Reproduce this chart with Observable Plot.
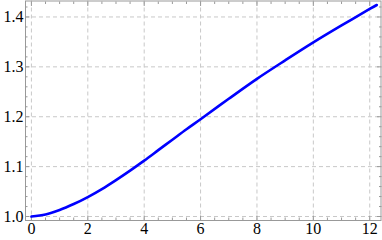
<!DOCTYPE html>
<html>
<head>
<meta charset="utf-8">
<script src="https://cdn.jsdelivr.net/npm/d3@7"></script>
<script src="https://cdn.jsdelivr.net/npm/@observablehq/plot@0.6"></script>
<style>
  html, body { margin: 0; padding: 0; background: #fff; }
  #chart svg { display: block; }
</style>
</head>
<body>
<div id="chart"></div>
<script>
const xs = [0, 0.5, 1, 1.5, 2, 2.5, 3, 3.5, 4, 4.5, 5, 5.5, 6, 7, 8, 9, 10, 11, 12, 12.25];
const ys = [1.000, 1.004, 1.013, 1.025, 1.039, 1.055, 1.073, 1.092, 1.112, 1.133, 1.154, 1.175, 1.195, 1.236, 1.276, 1.313, 1.349, 1.383, 1.416, 1.424];
const xMajor = [0, 2, 4, 6, 8, 10, 12];
const xMinor = d3.range(0, 12.5, 0.5).filter(v => v % 2 !== 0);
const yMajor = [1.0, 1.1, 1.2, 1.3, 1.4];
const yMinor = d3.range(1.0, 1.43, 0.02).filter(v => Math.abs(v * 10 - Math.round(v * 10)) > 1e-6);

const data = xs.map((x, i) => ({x, y: ys[i]}));
const frameColor = "#999";
const serif = "Liberation Serif";
const gridStyle = {stroke: "#c8c8c8", strokeDasharray: "4,3", strokeWidth: 1};

const chart = Plot.plot({
  width: 382,
  height: 240,
  marginLeft: 25,
  marginRight: 1.5,
  marginTop: 0.5,
  marginBottom: 20,
  style: "font-family: 'Liberation Serif'; font-size: 16px; color: #000;",
  x: {domain: [-0.21, 12.4], label: null},
  y: {domain: [0.992, 1.432], label: null},
  marks: [
    Plot.ruleX(xMajor, gridStyle),
    Plot.ruleY(yMajor, gridStyle),
    Plot.axisX({ticks: xMajor, tickSize: 0, tickPadding: 2, tickFormat: d => d, fontSize: 16, fontFamily: serif, fill: "#000", label: null}),
    Plot.axisY({ticks: yMajor, tickSize: 0, tickPadding: 2, tickFormat: d3.format(".1f"), fontSize: 16, fontFamily: serif, fill: "#000", label: null}),
    Plot.axisX({ticks: xMajor, tickSize: -4.5, text: null, stroke: frameColor, label: null}),
    Plot.axisX({ticks: xMinor, tickSize: -2.5, text: null, stroke: frameColor, label: null}),
    Plot.axisX({anchor: "top", ticks: xMajor, tickSize: -4.5, text: null, stroke: frameColor, label: null}),
    Plot.axisX({anchor: "top", ticks: xMinor, tickSize: -2.5, text: null, stroke: frameColor, label: null}),
    Plot.axisY({ticks: yMajor, tickSize: -4.5, text: null, stroke: frameColor, label: null}),
    Plot.axisY({ticks: yMinor, tickSize: -2.5, text: null, stroke: frameColor, label: null}),
    Plot.axisY({anchor: "right", ticks: yMajor, tickSize: -4.5, text: null, stroke: frameColor, label: null}),
    Plot.axisY({anchor: "right", ticks: yMinor, tickSize: -2.5, text: null, stroke: frameColor, label: null}),
    Plot.frame({stroke: frameColor}),
    Plot.line(data, {x: "x", y: "y", stroke: "#0000ff", strokeWidth: 2.6, curve: "catmull-rom"})
  ]
});
document.getElementById("chart").appendChild(chart);
</script>
</body>
</html>
